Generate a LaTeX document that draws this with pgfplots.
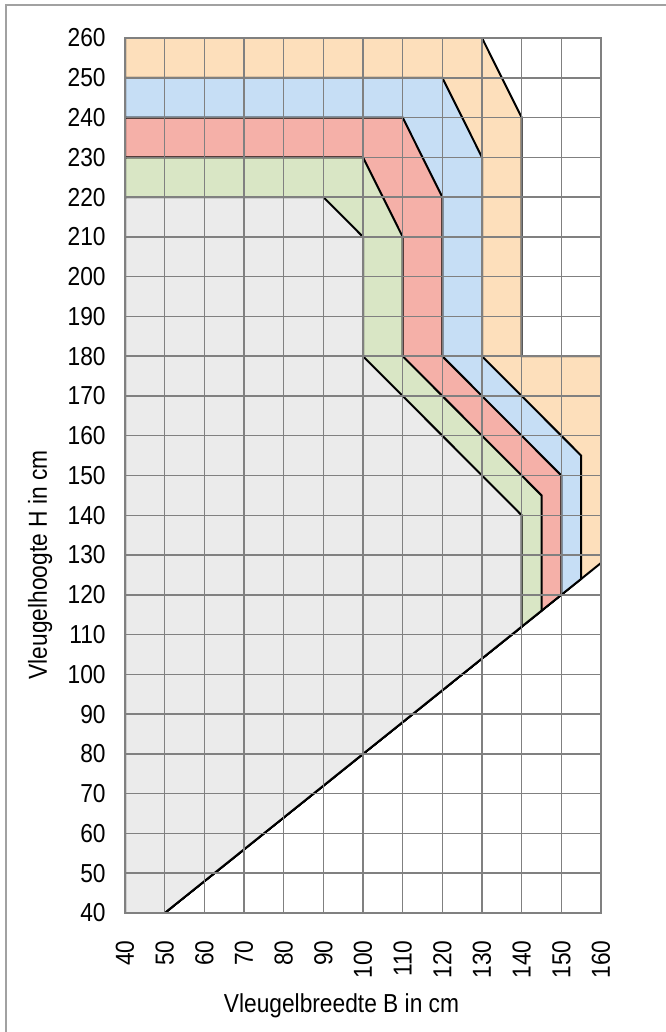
\documentclass[border=0pt]{standalone}
\usepackage{pgfplots}
\pgfplotsset{compat=1.18}
\usepackage{fontspec}
\setmainfont{Liberation Sans}[FakeStretch=0.875]
\definecolor{corange}{HTML}{FDDFBB}
\definecolor{cblue}{HTML}{C6DEF5}
\definecolor{cred}{HTML}{F5B0A8}
\definecolor{cgreen}{HTML}{D9E6C5}
\definecolor{cgray}{HTML}{EBEBEB}
\definecolor{cgrid}{HTML}{808080}
\begin{document}
\begin{tikzpicture}
\useasboundingbox (0pt,0pt) rectangle (332.5pt,516pt);
\begin{axis}[
  at={(62.5pt,59.5pt)}, anchor=south west,
  scale only axis, width=238pt, height=437.5pt,
  xmin=40, xmax=160, ymin=40, ymax=260,
  xtick={40,50,...,160}, ytick={40,50,...,260},
  grid=major,
  grid style={cgrid, line width=0.75pt},
  axis line style={cgrid, line width=0.75pt},
  major tick length=0pt,
  axis on top,
  /pgf/number format/assume math mode=true,
  ticklabel style={font=\fontsize{13}{15}\selectfont, inner sep=0pt},
  xticklabel style={rotate=90, anchor=east},
  yticklabel style={anchor=east},
  xticklabel shift=13.5pt,
  yticklabel shift=9.5pt,
]
\addplot[fill=corange, draw=black, line width=1pt] coordinates {(40,40) (50,40) (160,128) (160,180) (140,180) (140,240) (130,260) (40,260)} -- cycle;
\addplot[fill=cblue, draw=black, line width=1pt] coordinates {(40,40) (50,40) (155,124) (155,155) (130,180) (130,230) (120,250) (40,250)} -- cycle;
\addplot[fill=cred, draw=black, line width=1pt] coordinates {(40,40) (50,40) (150,120) (150,150) (120,180) (120,220) (110,240) (40,240)} -- cycle;
\addplot[fill=cgreen, draw=black, line width=1pt] coordinates {(40,40) (50,40) (145,116) (145,145) (110,180) (110,210) (100,230) (40,230)} -- cycle;
\addplot[fill=cgray, draw=black, line width=1pt] coordinates {(40,40) (50,40) (140,112) (140,140) (100,180) (100,210) (90,220) (40,220)} -- cycle;
\end{axis}
\node[anchor=base, font=\fontsize{13}{15}\selectfont] at (170.75pt,9.5pt) {Vleugelbreedte B in cm};
\node[anchor=base, rotate=90, font=\fontsize{13}{15}\selectfont] at (23.5pt,233.5pt) {Vleugelhoogte H in cm};
\draw[color=black!37, line width=1pt] (3pt,-10pt) rectangle (345pt,513.5pt);
\end{tikzpicture}
\end{document}
